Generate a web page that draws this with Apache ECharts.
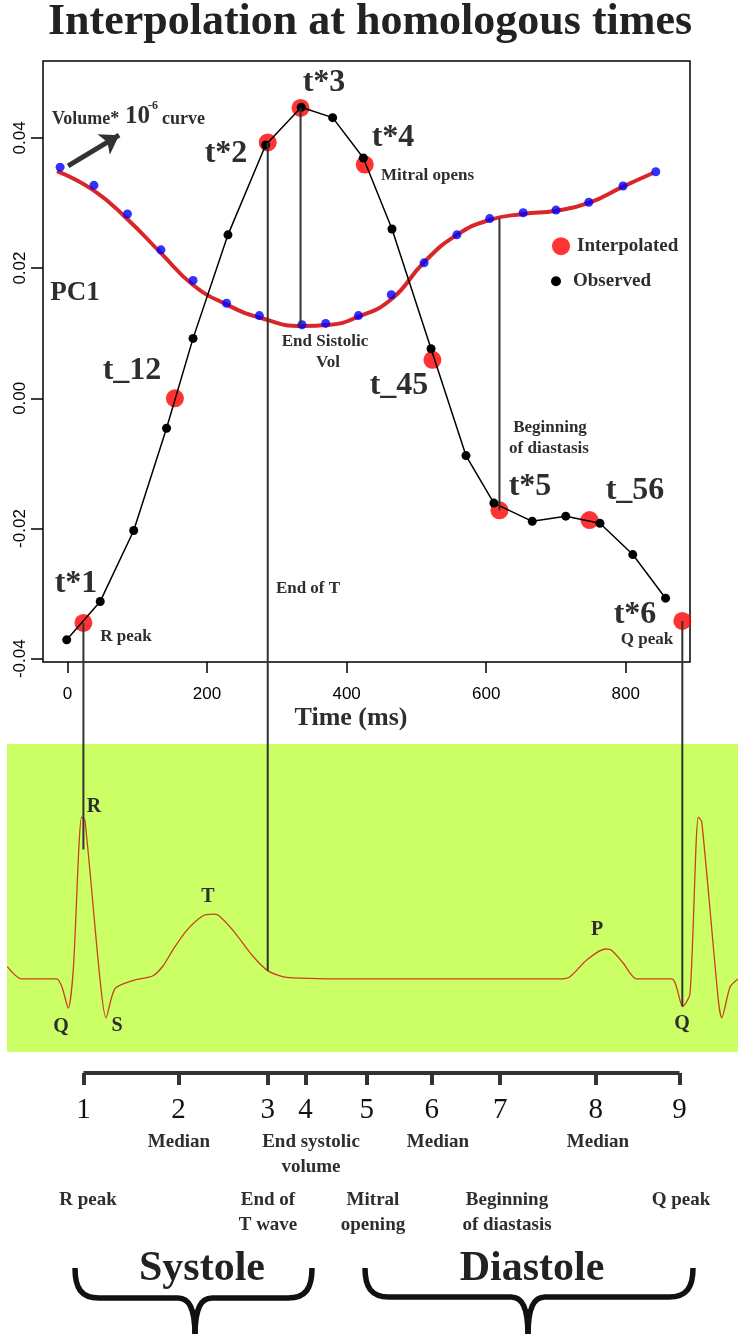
<!DOCTYPE html>
<html>
<head>
<meta charset="utf-8">
<script src="https://cdn.jsdelivr.net/npm/echarts@6.0.0/dist/echarts.min.js"></script>
<style>
  html, body { margin: 0; padding: 0; background: #fff; }
  #chart { width: 738px; height: 1334px; }
</style>
</head>
<body>
<div id="chart"></div>
<script>
// observed PC1 curve (black)
var obsTime = [-1, 47, 95, 142, 180, 230, 284, 335, 380, 424, 465, 521, 571, 611, 666, 714, 763, 810, 857];
var obsPC1 = [-0.0371, -0.0312, -0.0203, -0.0046, 0.0092, 0.0251, 0.0389, 0.0447, 0.0431, 0.0369, 0.0260,
              0.0076, -0.0088, -0.0161, -0.0189, -0.0181, -0.0192, -0.0240, -0.0307];

// interpolated points at homologous times (red)
var interpTime = [22.9, 154, 287, 334, 426, 523, 619, 748, 881];
var interpPC1 = [-0.0345, 0.0000, 0.0393, 0.0446, 0.0359, 0.0059, -0.0172, -0.0187, -0.0342];

// volume samples (blue) and fitted volume curve (red line)
var volTime = [-10.5, 38, 86, 134, 180, 228, 275, 336, 370, 417, 464, 511, 558, 605, 653, 700, 747, 796, 843];
var volPC1 = [0.0355, 0.0327, 0.0283, 0.0228, 0.0181, 0.0146, 0.0127, 0.0113, 0.0115, 0.0127, 0.0159,
              0.0208, 0.0251, 0.0276, 0.0285, 0.0289, 0.0301, 0.0326, 0.0348];
var volCurveTime = [-15, 38, 86, 134, 180, 228, 275, 336, 376, 416, 464, 511, 558, 605, 653, 700, 747, 796, 839];
var volCurvePC1 = [0.0349, 0.0319, 0.0275, 0.0223, 0.0174, 0.0144, 0.0124, 0.0111, 0.0113, 0.0125, 0.0152,
                   0.0209, 0.0251, 0.0274, 0.0283, 0.0288, 0.0300, 0.0325, 0.0346];

// ECG trace, same time axis (ms), amplitude relative to R peak
var ecgTime = [-85.9, -65.3, -15.2, -7.6, 1.4, 8.6, 20.6, 25.3, 46.8, 55.4, 68.3, 94.1, 122.7, 137, 151.3, 171,
               194.3, 208.6, 215.8, 237.3, 265.9, 287.4, 314.1, 433.4, 705.4, 719.7, 743.7, 769.9, 777, 796.1,
               815.3, 865.4, 881.2, 891.6, 903.5, 908.4, 932.1, 937, 948.9, 960.3];
var ecgMv = [0.076, 0, 0, -0.05, -0.18, 0.056, 1.0, 0.98, 0, -0.24, -0.06, -0.01, 0.02, 0.08, 0.18, 0.30,
             0.39, 0.40, 0.395, 0.30, 0.14, 0.05, 0.01, 0, 0, 0.014, 0.117, 0.185, 0.183, 0.097,
             0, 0, -0.17, -0.09, 1.0, 0.97, -0.13, -0.24, -0.05, 0];

// axis ticks
var xTicks = [0, 200, 400, 600, 800];
var yTicks = [-0.04, -0.02, 0, 0.02, 0.04];

// bottom time line
var timeTicks = [23, 159, 287, 341, 429, 522, 620, 757, 877];
var timeLabels = ['1', '2', '3', '4', '5', '6', '7', '8', '9'];

// drop lines inside the plot: [time, from, to]
var dropLines = [[334, 0.0446, 0.0111], [619, 0.0276, -0.0172]];
// links from the plot down to the ECG: [time, PC1, ECG amplitude]
var ecgLinks = [[22.9, -0.0345, 0.80], [287, 0.0393, 0.05], [881, -0.0342, -0.17]];

var SERIF = '"Liberation Serif", "Times New Roman", serif';
var SANS = '"Liberation Sans", Arial, sans-serif';
var INK = '#2e2e2e';

function pairs(xs, ys) {
  return xs.map(function (x, i) { return [x, ys[i]]; });
}

function label(x, y, text, size, opts) {
  opts = opts || {};
  return {
    type: 'text', x: x, y: y, silent: true, z: 100,
    style: {
      text: text,
      fill: opts.fill || INK,
      fontFamily: SERIF,
      fontSize: size,
      fontWeight: opts.weight || 'bold',
      align: opts.align || 'center',
      verticalAlign: 'middle'
    }
  };
}

function brace(xl, xm, xr, yTop, yBar, yTip) {
  var st = { stroke: '#111', lineWidth: 5.5, fill: null };
  function bez(x1, y1, c1x, c1y, c2x, c2y, x2, y2) {
    return { type: 'bezierCurve', silent: true, shape: { x1: x1, y1: y1, cpx1: c1x, cpy1: c1y, cpx2: c2x, cpy2: c2y, x2: x2, y2: y2 }, style: st };
  }
  function seg(x1, y1, x2, y2) {
    return { type: 'line', silent: true, shape: { x1: x1, y1: y1, x2: x2, y2: y2 }, style: st };
  }
  return [
    bez(xl, yTop, xl, yBar - 10, xl + 6, yBar, xl + 24, yBar),
    seg(xl + 24, yBar, xm - 17, yBar),
    bez(xm - 17, yBar, xm - 6, yBar, xm, yBar + 10, xm, yTip),
    bez(xm, yTip, xm, yBar + 10, xm + 6, yBar, xm + 17, yBar),
    seg(xm + 17, yBar, xr - 24, yBar),
    bez(xr - 24, yBar, xr - 6, yBar, xr, yBar - 10, xr, yTop)
  ];
}

var chart = echarts.init(document.getElementById('chart'));

var option = {
  animation: false,
  backgroundColor: '#fff',
  grid: [
    { left: 43, right: 48, top: 61, height: 601, show: true, borderColor: '#000', borderWidth: 1.5 },
    { left: 7, right: 0, top: 744, height: 308, show: true, backgroundColor: '#ccff66', borderWidth: 0 },
    { left: 43, right: 48, top: 1040, height: 33 }
  ],
  xAxis: [
    {
      type: 'value', gridIndex: 0, min: -35, max: 892,
      name: 'Time (ms)', nameLocation: 'middle', nameGap: 43,
      nameTextStyle: { fontFamily: SERIF, fontWeight: 'bold', fontSize: 26, color: INK, padding: [0, 31, 0, 0] },
      axisLine: { show: false, onZero: false },
      splitLine: { show: false },
      axisTick: { show: true, customValues: xTicks, length: 11, lineStyle: { color: '#000', width: 1.5 } },
      axisLabel: { customValues: xTicks, margin: 24, fontFamily: SANS, fontSize: 17, color: '#000' }
    },
    { type: 'value', gridIndex: 1, min: -86.3, max: 960.3, show: false },
    {
      type: 'value', gridIndex: 2, min: -35, max: 892,
      axisLine: { show: false, onZero: false },
      splitLine: { show: false },
      axisTick: { show: true, customValues: timeTicks, length: 12, lineStyle: { color: '#333', width: 4 } },
      axisLabel: {
        customValues: timeTicks, margin: 23, fontFamily: SERIF, fontSize: 29, color: '#111',
        formatter: function (v) { return timeLabels[timeTicks.indexOf(v)]; }
      }
    }
  ],
  yAxis: [
    {
      type: 'value', gridIndex: 0, min: -0.0405, max: 0.0518,
      axisLine: { show: false, onZero: false },
      splitLine: { show: false },
      axisTick: { show: true, customValues: yTicks, length: 12, lineStyle: { color: '#000', width: 1.5 } },
      axisLabel: {
        customValues: yTicks, rotate: 90, margin: 14, fontFamily: SANS, fontSize: 17, color: '#000',
        formatter: function (v) { return v.toFixed(2); }
      }
    },
    { type: 'value', gridIndex: 1, min: -0.451, max: 1.451, show: false },
    { type: 'value', gridIndex: 2, min: 0, max: 1, show: false }
  ],
  legend: [
    {
      data: ['Interpolated'], left: 552, top: 236.7, padding: 0, icon: 'circle',
      itemWidth: 22, itemHeight: 18,
      textStyle: { fontFamily: SERIF, fontWeight: 'bold', fontSize: 19, color: INK }
    },
    {
      data: ['Observed'], left: 551, top: 271.7, padding: 0, icon: 'circle',
      itemWidth: 24, itemHeight: 10,
      textStyle: { fontFamily: SERIF, fontWeight: 'bold', fontSize: 19, color: INK }
    }
  ],
  series: [
    {
      name: 'Volume curve', type: 'line', xAxisIndex: 0, yAxisIndex: 0, z: 2,
      data: pairs(volCurveTime, volCurvePC1), smooth: true, showSymbol: false,
      lineStyle: { color: '#d9262b', width: 4 }
    },
    {
      name: 'Volume', type: 'scatter', xAxisIndex: 0, yAxisIndex: 0, z: 3,
      data: pairs(volTime, volPC1), symbolSize: 9, itemStyle: { color: '#0000ff' },
      markLine: {
        silent: true, symbol: ['none', 'arrow'], symbolSize: 18,
        lineStyle: { color: '#333', width: 5, type: 'solid' },
        label: { show: false },
        data: [[{ coord: [1, 0.0357] }, { coord: [74, 0.0404] }]]
      }
    },
    {
      name: 'Interpolated', type: 'scatter', xAxisIndex: 0, yAxisIndex: 0, z: 4,
      data: pairs(interpTime, interpPC1), symbolSize: 18, itemStyle: { color: '#ff0000' }
    },
    {
      name: 'Observed', type: 'line', xAxisIndex: 0, yAxisIndex: 0, z: 5,
      data: pairs(obsTime, obsPC1), symbol: 'circle', symbolSize: 9, showAllSymbol: true,
      itemStyle: { color: '#000' }, lineStyle: { color: '#000', width: 1.5 }
    }
  ].concat(dropLines.map(function (d) {
    return {
      type: 'line', xAxisIndex: 0, yAxisIndex: 0, z: 6, showSymbol: false, silent: true,
      data: [[d[0], d[1]], [d[0], d[2]]], lineStyle: { color: '#333', width: 2 }
    };
  })).concat([
    {
      name: 'ECG', type: 'line', xAxisIndex: 1, yAxisIndex: 1, z: 2,
      data: pairs(ecgTime, ecgMv), smooth: 0.25, showSymbol: false,
      lineStyle: { color: '#c8401e', width: 1.3 }
    },
    {
      name: 'Timeline', type: 'line', xAxisIndex: 2, yAxisIndex: 2, z: 2, clip: false,
      data: [[timeTicks[0], 0], [timeTicks[timeTicks.length - 1], 0]], showSymbol: false,
      lineStyle: { color: '#333', width: 4 }
    }
  ])
};

chart.setOption(option);

// links from plot points down to the ECG, through both grids' scales
var graphics = ecgLinks.map(function (l) {
  var a = chart.convertToPixel({ xAxisIndex: 0, yAxisIndex: 0 }, [l[0], l[1]]);
  var b = chart.convertToPixel({ xAxisIndex: 1, yAxisIndex: 1 }, [l[0], l[2]]);
  return { type: 'line', silent: true, z: 50, shape: { x1: a[0], y1: a[1], x2: a[0], y2: b[1] }, style: { stroke: '#333', lineWidth: 2 } };
});

graphics = graphics.concat([
  label(370, 23, 'Interpolation at homologous times', 44, { fill: '#222' }),
  // plot annotations
  label(324, 83, 't*3', 32),
  label(226, 154, 't*2', 32),
  label(393, 138, 't*4', 32),
  label(381, 176, 'Mitral opens', 17, { align: 'left' }),
  label(75, 293, 'PC1', 27),
  label(52, 119, 'Volume*', 18, { align: 'left' }),
  label(125, 117, '10', 25, { align: 'left' }),
  label(148, 106, '-6', 12, { align: 'left' }),
  label(162, 119, 'curve', 18, { align: 'left' }),
  label(325, 342, 'End Sistolic', 17),
  label(328, 363, 'Vol', 17),
  label(132, 371, 't_12', 32),
  label(399, 386, 't_45', 32),
  label(550, 428, 'Beginning', 17),
  label(549, 449, 'of diastasis', 17),
  label(530, 487, 't*5', 32),
  label(635, 491, 't_56', 32),
  label(635, 615, 't*6', 32),
  label(647, 640, 'Q peak', 17),
  label(76, 584, 't*1', 32),
  label(126, 637, 'R peak', 17),
  label(308, 589, 'End of T', 17),
  // ECG waves
  label(94, 807, 'R', 20),
  label(61, 1027, 'Q', 20),
  label(117, 1026, 'S', 20),
  label(208, 897, 'T', 20),
  label(597, 930, 'P', 20),
  label(682, 1024, 'Q', 20),
  // time line notes
  label(179, 1142, 'Median', 19),
  label(311, 1142, 'End systolic', 19),
  label(311, 1167, 'volume', 19),
  label(438, 1142, 'Median', 19),
  label(598, 1142, 'Median', 19),
  label(88, 1200, 'R peak', 19),
  label(268, 1200, 'End of', 19),
  label(268, 1225, 'T wave', 19),
  label(373, 1200, 'Mitral', 19),
  label(373, 1225, 'opening', 19),
  label(507, 1200, 'Beginning', 19),
  label(507, 1225, 'of diastasis', 19),
  label(681, 1200, 'Q peak', 19),
  label(202, 1269, 'Systole', 42, { fill: '#222' }),
  label(532, 1269, 'Diastole', 42, { fill: '#222' })
]);

graphics = graphics.concat(brace(75, 195, 312, 1268, 1298, 1336));
graphics = graphics.concat(brace(365, 528, 693, 1268, 1297, 1336));

chart.setOption({ graphic: graphics });
</script>
</body>
</html>
